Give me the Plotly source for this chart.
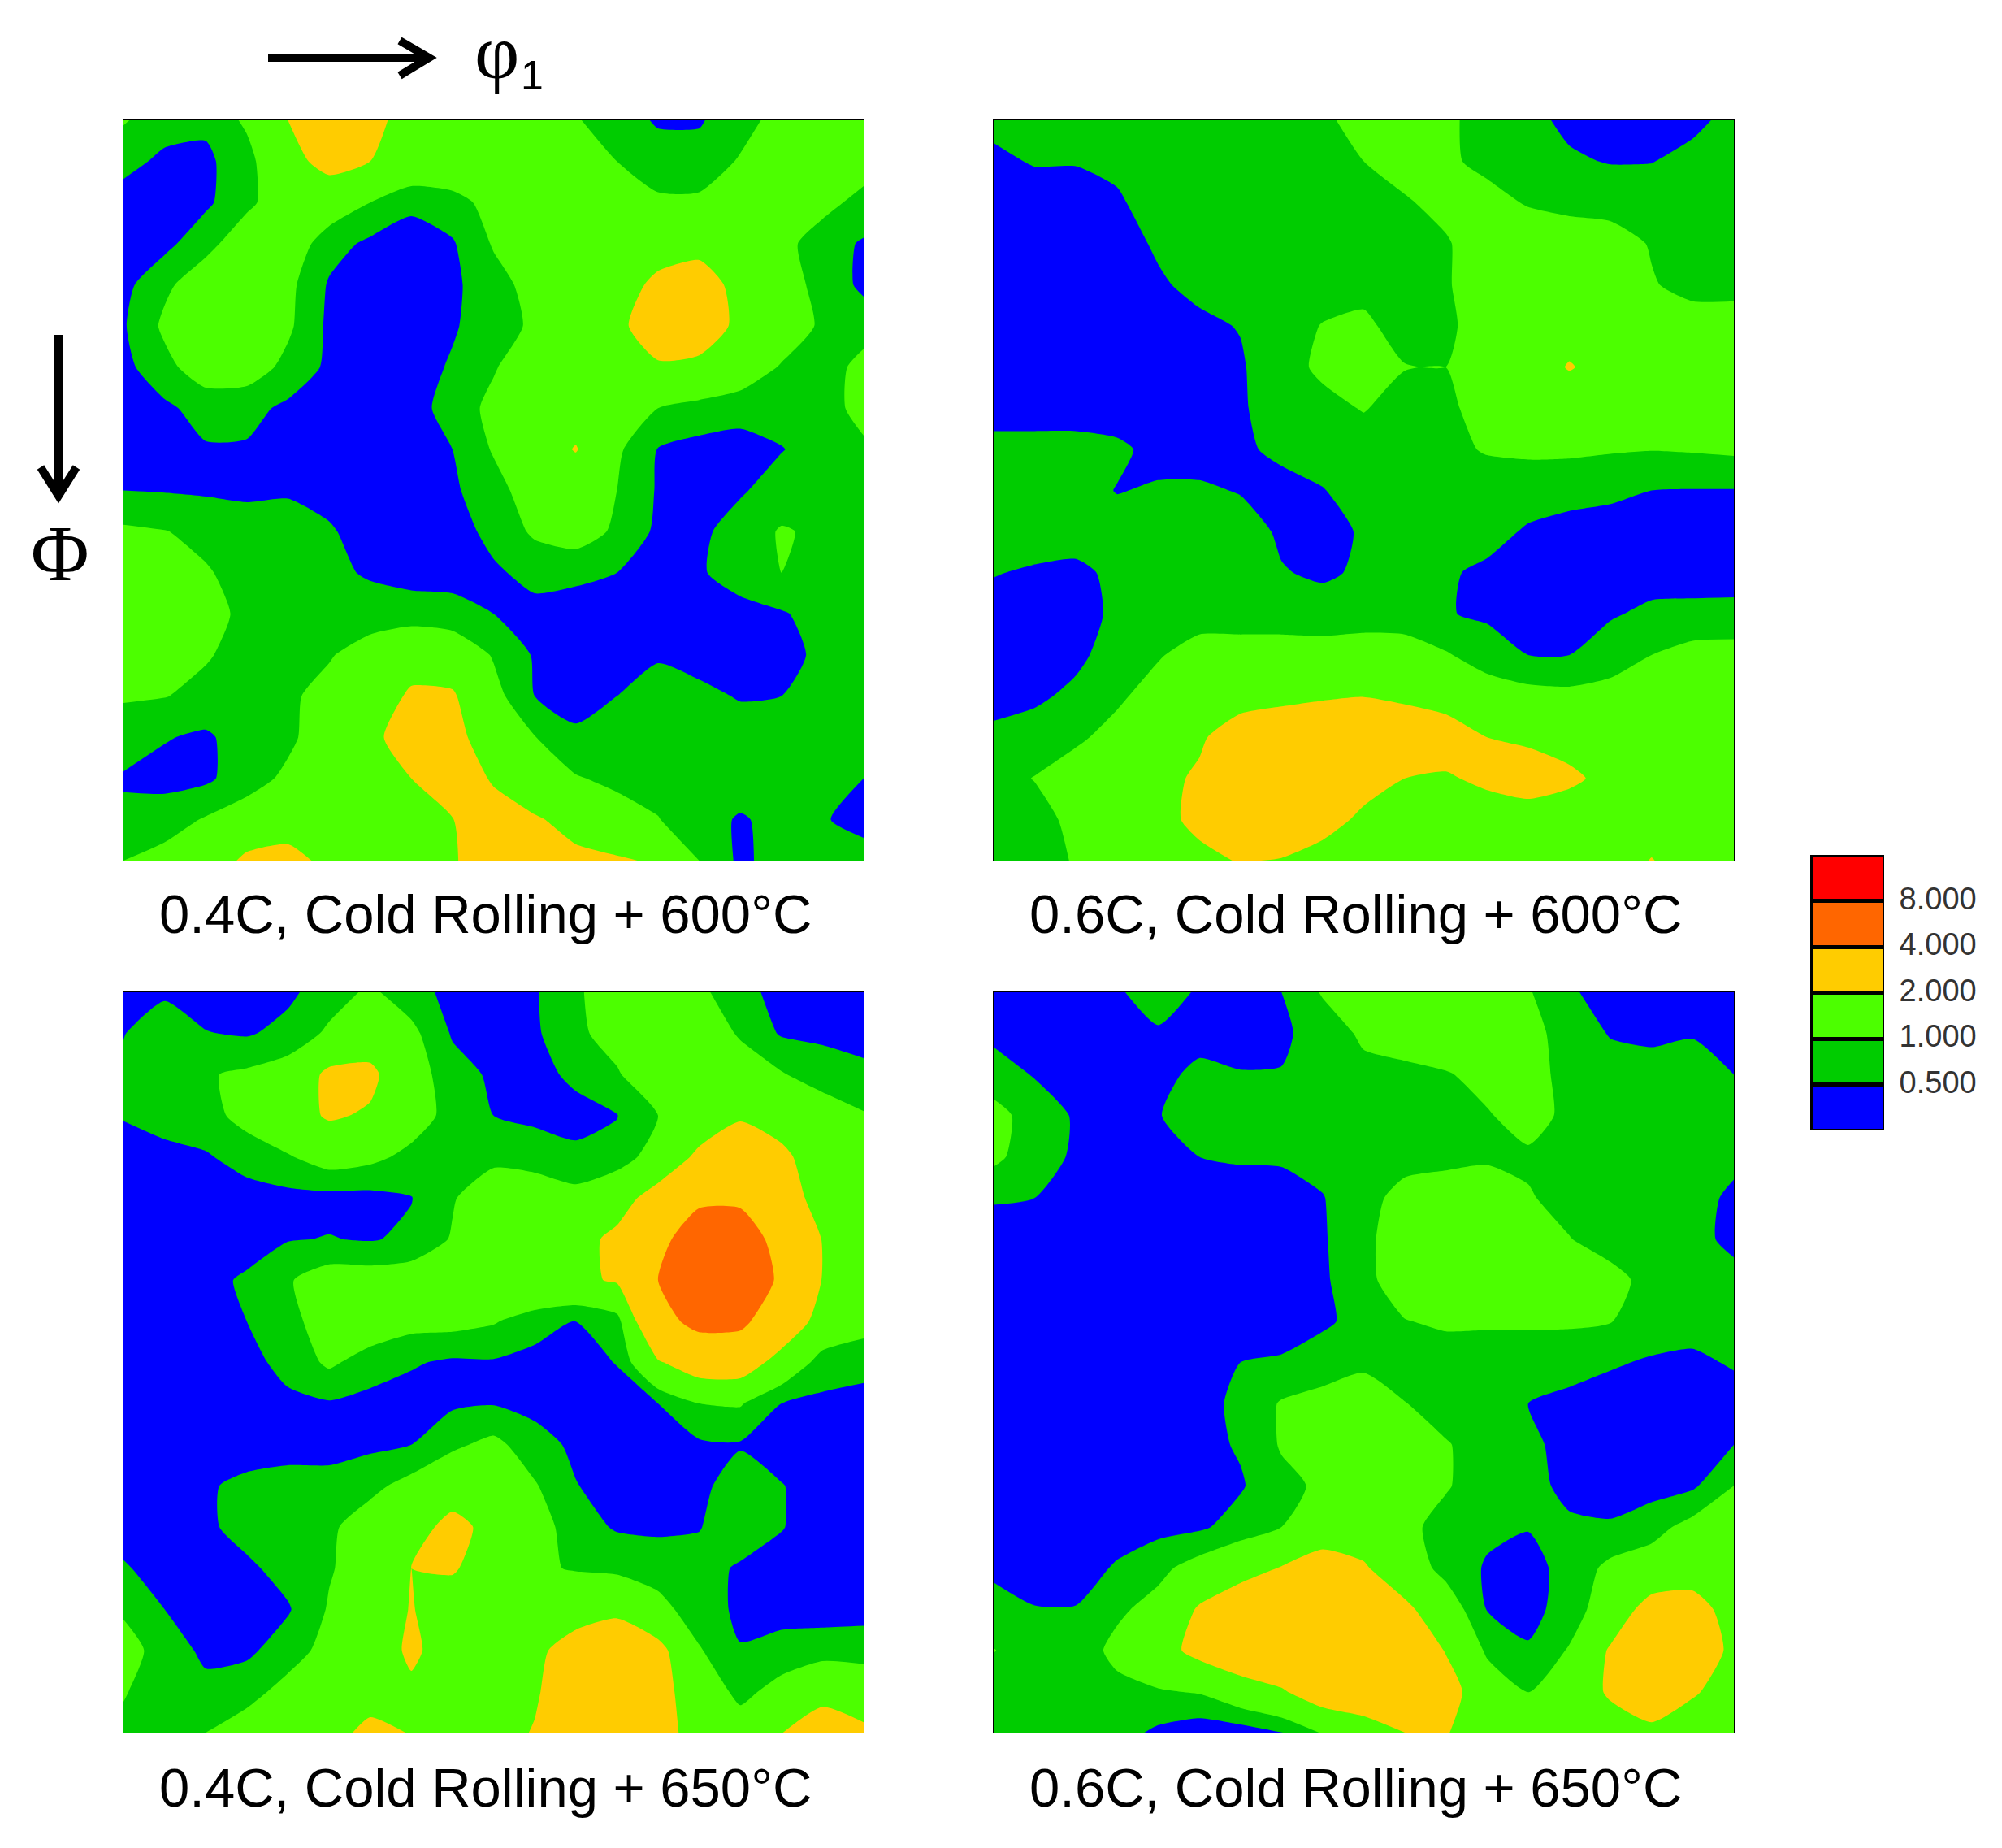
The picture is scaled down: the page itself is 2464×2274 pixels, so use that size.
import numpy as np
import plotly.graph_objects as go

W, H = 2464, 2274

# texture intensity on a 19 x 19 grid (5 degree steps), top row first
z_04_600 = [
    [1.05, .7, .6, 1.1, 2.0, 2.6, 2.3, 1.6, 1.4, 1.3, 1.2, 1.05, .7, .45, .45, .8, 1.2, 1.4, 1.5],
    [.65, .4, .4, .8, 1.7, 2.3, 2.0, 1.6, 1.5, 1.4, 1.3, 1.2, 1.0, .7, .7, 1.05, 1.3, 1.4, 1.3],
    [.3, .3, .4, .9, 1.3, 1.4, 1.0, .6, .8, 1.2, 1.4, 1.5, 1.3, 1.1, 1.1, 1.4, 1.4, 1.2, .8],
    [.3, .35, .85, 1.3, 1.4, .7, .4, .3, .45, 1.05, 1.4, 1.5, 1.6, 1.7, 1.8, 1.6, 1.2, .7, .45],
    [.35, .9, 1.3, 1.4, 1.15, .45, .3, .3, .4, .8, 1.2, 1.5, 1.7, 2.15, 2.3, 1.8, 1.3, .8, .4],
    [.45, 1.1, 1.4, 1.4, 1.1, .4, .3, .3, .45, .75, 1.1, 1.5, 1.8, 2.5, 2.5, 1.8, 1.4, .9, .75],
    [.35, .85, 1.3, 1.3, .85, .4, .3, .3, .55, .95, 1.4, 1.6, 1.7, 1.9, 1.8, 1.4, .95, .7, 1.2],
    [.25, .4, .7, .65, .4, .3, .3, .3, .7, 1.15, 1.5, 1.6, 1.4, 1.0, .8, .7, .7, .75, 1.2],
    [.3, .3, .45, .45, .3, .3, .3, .3, .5, 1.05, 1.5, 2.05, 1.1, .48, .35, .3, .48, .7, .9],
    [.5, .47, .44, .4, .45, .35, .3, .3, .42, .8, 1.3, 1.4, 1.0, .45, .35, .45, .7, .8, .85],
    [1.1, 1.02, .85, .75, .7, .55, .3, .3, .35, .6, 1.1, 1.3, .9, .4, .4, .7, 1.05, .9, .85],
    [1.3, 1.3, 1.05, .8, .75, .6, .45, .35, .35, .45, .6, .6, .5, .35, .45, .7, 1.0, .85, .85],
    [1.4, 1.4, 1.15, .9, .8, .75, .7, .7, .65, .5, .4, .3, .3, .3, .3, .35, .45, .7, .8],
    [1.3, 1.25, 1.05, .8, .8, .95, 1.3, 1.7, 1.5, .95, .45, .35, .35, .45, .35, .3, .35, .6, .75],
    [1.05, 1.02, .85, .8, .9, 1.2, 1.6, 2.1, 2.1, 1.2, .5, .4, .5, .7, .6, .47, .5, .7, .8],
    [.75, .53, .42, .75, .9, 1.3, 1.8, 2.4, 2.3, 1.5, 1.02, .55, .7, 1.0, .8, .7, .7, .75, .85],
    [.45, .35, .4, .8, 1.1, 1.4, 1.8, 2.0, 2.6, 1.9, 1.3, 1.05, .85, .8, .8, .75, .7, .6, .5],
    [.6, .75, 1.05, 1.25, 1.4, 1.5, 1.6, 1.8, 1.98, 2.4, 2.1, 1.7, 1.3, 1.02, .7, .45, .65, .52, .42],
    [1.0, 1.2, 1.4, 2.2, 2.4, 1.7, 1.5, 1.6, 1.9, 2.6, 2.4, 2.2, 2.1, 1.9, 1.0, .4, .7, .8, .6],
]

z_06_600 = [
    [.6, .7, .7, .7, .7, .7, .7, .7, .95, 1.1, 1.2, 1.1, .8, .6, .42, .35, .38, .42, .6],
    [.42, .53, .52, .55, .7, .75, .8, .85, .9, 1.0, 1.2, 1.1, .85, .65, .55, .48, .49, .6, .7],
    [.3, .3, .35, .47, .6, .7, .75, .8, .8, .85, .95, 1.15, 1.2, .95, .8, .75, .7, .7, .7],
    [.3, .3, .3, .35, .55, .65, .7, .8, .8, .8, .85, .95, 1.3, 1.4, 1.4, 1.3, .95, .7, .65],
    [.25, .25, .3, .3, .45, .6, .7, .75, .8, .85, .9, .95, 1.3, 1.5, 1.5, 1.4, 1.05, .8, .8],
    [.25, .25, .25, .3, .3, .42, .52, .8, 1.02, 1.1, .8, .9, 1.25, 1.5, 1.7, 1.6, 1.4, 1.3, 1.3],
    [.25, .25, .25, .25, .3, .35, .45, .8, 1.1, 1.3, 1.02, 1.001, 1.3, 1.6, 2.05, 1.7, 1.5, 1.4, 1.3],
    [.25, .25, .25, .25, .3, .35, .45, .7, .85, 1.03, .8, .9, 1.2, 1.4, 1.5, 1.5, 1.4, 1.3, 1.2],
    [.7, .7, .7, .6, .35, .35, .42, .6, .7, .75, .75, .85, 1.05, 1.1, 1.1, 1.05, 1.02, 1.05, 1.1],
    [.6, .7, .7, .48, .55, .55, .48, .35, .48, .7, .8, .75, .7, .7, .65, .6, .5, .48, .48],
    [.7, .7, .7, .7, .75, .75, .65, .45, .35, .55, .7, .75, .65, .45, .35, .3, .3, .3, .3],
    [.52, .45, .4, .6, .7, .75, .7, .52, .45, .55, .7, .55, .42, .3, .3, .3, .3, .3, .35],
    [.35, .3, .3, .6, .7, .75, .7, .7, .65, .7, .7, .53, .42, .35, .35, .45, .6, .62, .6],
    [.3, .3, .4, .7, .95, 1.25, 1.3, 1.3, 1.3, 1.35, 1.3, 1.05, .75, .5, .5, .75, 1.0, 1.2, 1.25],
    [.35, .42, .6, .9, 1.25, 1.6, 1.7, 1.8, 1.9, 1.98, 1.8, 1.6, 1.3, 1.2, 1.15, 1.2, 1.3, 1.4, 1.45],
    [.6, .7, .9, 1.2, 1.5, 1.9, 2.4, 2.6, 2.8, 2.9, 2.8, 2.5, 2.0, 1.8, 1.6, 1.5, 1.5, 1.5, 1.5],
    [.8, 1.02, 1.3, 1.45, 1.8, 2.1, 2.7, 2.9, 2.8, 2.4, 2.0, 1.9, 2.2, 2.6, 2.2, 1.7, 1.5, 1.5, 1.5],
    [.65, .8, 1.15, 1.4, 1.75, 2.2, 2.5, 2.7, 2.4, 1.8, 1.6, 1.5, 1.5, 1.4, 1.4, 1.4, 1.4, 1.4, 1.4],
    [.6, .75, 1.05, 1.3, 1.5, 1.8, 2.05, 1.95, 1.6, 1.5, 1.4, 1.4, 1.4, 1.4, 1.4, 1.4, 2.05, 1.4, 1.4],
]

z_04_650 = [
    [.35, .42, .3, .3, .4, .75, 1.1, .7, .35, .3, .45, .95, 1.2, 1.3, 1.15, .6, .4, .35, .35],
    [.48, .8, .52, .45, .65, 1.1, 1.5, 1.15, .45, .35, .42, .9, 1.2, 1.5, 1.6, .9, .45, .42, .35],
    [.6, .7, .95, 1.1, 1.3, 2.2, 2.2, 1.3, .7, .42, .35, .6, .95, 1.4, 1.7, 1.5, 1.05, .7, .6],
    [.53, .7, .8, 1.2, 1.6, 2.1, 1.9, 1.3, .8, .5, .4, .35, .48, 1.0, 1.4, 1.9, 1.6, 1.4, 1.05],
    [.3, .35, .45, .7, .95, 1.3, 1.15, .85, .7, .85, .75, .6, .7, 1.3, 2.2, 2.6, 2.2, 1.5, 1.2],
    [.3, .3, .3, .3, .35, .35, .35, .48, .95, 1.4, 1.4, 1.2, 1.6, 2.4, 3.8, 3.8, 2.4, 1.7, 1.0],
    [.3, .3, .3, .35, .47, .52, .46, .6, 1.05, 1.55, 1.6, 1.7, 2.2, 3.7, 4.6, 4.6, 3.6, 1.95, 1.3],
    [.3, .3, .4, .55, .95, 1.3, 1.3, 1.35, 1.6, 1.7, 1.8, 1.8, 2.1, 4.0, 4.9, 4.9, 3.8, 1.95, 1.4],
    [.3, .3, .35, .5, .85, 1.25, 1.4, 1.2, 1.2, 1.05, .7, .48, .75, 3.4, 4.5, 4.4, 2.8, 1.6, 1.25],
    [.3, .3, .3, .35, .65, 1.1, .75, .55, .42, .45, .35, .3, .52, 1.9, 2.6, 2.6, 1.6, .75, .65],
    [.3, .3, .3, .3, .4, .45, .35, .3, .42, .47, .35, .3, .3, .5, 1.0, 1.05, .5, .4, .35],
    [.3, .3, .3, .3, .3, .35, .4, .5, .9, 1.15, .7, .4, .3, .3, .42, .45, .3, .3, .3],
    [.3, .3, .45, .6, .7, .65, .85, 1.2, 1.5, 1.6, 1.05, .52, .3, .3, .35, .8, .52, .3, .3],
    [.3, .3, .4, .7, .75, .9, 1.3, 1.6, 2.3, 1.7, 1.3, .7, .45, .42, .48, .75, .52, .3, .3],
    [.55, .3, .3, .4, .7, .95, 1.3, 2.0, 2.1, 1.5, 1.1, .95, .85, .75, .65, .45, .35, .3, .3],
    [.9, .5, .3, .3, .45, 1.05, 1.4, 2.05, 1.5, 1.5, 1.5, 1.6, 1.8, 1.2, .7, .42, .3, .3, .3],
    [1.3, .7, .42, .4, .75, 1.2, 1.5, 2.15, 1.6, 1.6, 1.8, 2.4, 2.7, 2.3, 1.05, .52, .7, .75, .8],
    [1.05, .65, .6, .8, 1.2, 1.4, 1.5, 1.85, 1.6, 1.7, 1.9, 2.6, 2.9, 2.4, 1.4, .85, 1.2, 1.7, 1.4],
    [.85, .75, 1.0, 1.3, 1.5, 1.6, 2.3, 1.95, 1.7, 1.7, 2.05, 2.8, 2.9, 2.4, 1.6, 1.3, 1.98, 2.5, 2.2],
]

z_06_650 = [
    [.3, .3, .3, .45, .7, .45, .35, .5, 1.05, 1.3, 1.4, 1.4, 1.3, 1.05, .55, .35, .3, .3, .3],
    [.4, .3, .3, .35, .45, .35, .35, .42, .7, 1.1, 1.4, 1.5, 1.5, 1.2, .75, .47, .4, .47, .35],
    [.7, .47, .3, .3, .38, .6, .52, .52, .75, .85, .8, .95, 1.2, 1.3, .75, .7, .7, .7, .5],
    [1.2, .75, .45, .3, .48, .7, .7, .7, .75, .8, .85, .85, .95, 1.25, .85, .75, .7, .7, .7],
    [1.15, .65, .45, .3, .35, .5, .55, .55, .65, .75, .8, .85, .9, .9, .8, .75, .7, .7, .6],
    [.52, .5, .3, .3, .3, .3, .3, .35, .48, .8, 1.2, 1.3, 1.4, 1.05, .8, .75, .7, .65, .42],
    [.4, .3, .3, .3, .3, .3, .3, .3, .45, .85, 1.35, 1.5, 1.5, 1.3, 1.02, .75, .7, .6, .42],
    [.3, .3, .3, .3, .3, .3, .3, .3, .42, .85, 1.3, 1.5, 1.5, 1.5, 1.4, 1.2, .8, .7, .6],
    [.3, .3, .3, .3, .3, .3, .3, .3, .45, .6, .98, 1.08, 1.08, 1.08, 1.08, 1.02, .75, .7, .7],
    [.3, .3, .3, .3, .3, .3, .5, .55, .65, .9, .7, .75, .7, .7, .65, .55, .45, .4, .55],
    [.3, .3, .3, .3, .3, .35, .6, 1.05, 1.25, 1.3, 1.02, .7, .7, .5, .4, .3, .3, .3, .3],
    [.3, .3, .3, .3, .3, .35, .55, 1.05, 1.4, 1.5, 1.4, 1.05, .7, .6, .35, .3, .3, .3, .5],
    [.3, .3, .3, .3, .3, .3, .45, .85, 1.1, 1.4, 1.3, 1.05, .7, .6, .42, .3, .3, .42, 1.0],
    [.3, .3, .3, .3, .35, .42, .7, 1.0, 1.4, 1.5, 1.15, .8, .6, .52, .55, .55, .8, 1.2, 1.4],
    [.42, .3, .3, .55, .85, 1.25, 1.6, 2.05, 2.5, 2.1, 1.4, .8, .45, .35, .65, 1.15, 1.3, 1.4, 1.5],
    [.65, .52, .52, .9, 1.2, 2.1, 2.7, 3.0, 3.2, 3.0, 2.2, 1.4, .48, .35, .7, 1.4, 2.4, 2.5, 1.5],
    [1.02, .7, .7, 1.15, 1.6, 2.3, 2.8, 3.0, 3.2, 3.2, 2.8, 1.95, .9, .55, 1.05, 2.1, 2.9, 2.9, 1.7],
    [.7, .7, .8, .85, .95, 1.05, 1.5, 1.9, 2.6, 2.9, 3.0, 2.4, 1.4, .98, 1.3, 2.15, 2.9, 2.1, 1.6],
    [.7, .7, .7, .7, .4, .2, .25, .48, 1.05, 1.4, 2.0, 2.05, 1.5, 1.3, 1.3, 1.5, 1.7, 1.5, 1.4],
]

panels = [z_04_600, z_06_600, z_04_650, z_06_650]
panel_titles = [
    "0.4C, Cold Rolling + 600°C",
    "0.6C, Cold Rolling + 600°C",
    "0.4C, Cold Rolling + 650°C",
    "0.6C, Cold Rolling + 650°C",
]
levels = [0.5, 1, 2, 4, 8]
band_colors = ["#0000FF", "#00CC00", "#4CFF00", "#FFCC00", "#FF6600", "#FF0000"]
level_labels = ["0.500", "1.000", "2.000", "4.000", "8.000"]

# pixel boxes of the panels in the page
panel_x = [(152, 1063), (1223, 2134), (152, 1063), (1223, 2134)]
panel_y = [(148, 1059), (148, 1059), (1221, 2132), (1221, 2132)]
title_x = [597, 1668, 597, 1668]
title_y = [1124, 1124, 2199, 2199]


def dom_x(a, b):
    return [a / W, b / W]


def dom_y(a, b):
    return [1 - b / H, 1 - a / H]


def label(text, x, y, size, family="Liberation Sans", color="black"):
    return dict(
        text=text, x=x / W, y=1 - y / H, xref="paper", yref="paper",
        showarrow=False, xanchor="center", yanchor="middle",
        font=dict(size=size, family=family, color=color),
    )


def stroke(points):
    path = "M " + " L ".join(f"{x / W} {1 - y / H}" for x, y in points)
    return dict(type="path", path=path, xref="paper", yref="paper",
                line=dict(color="black", width=10))


fig = go.Figure()
layout_axes = {}
for i, z in enumerate(panels):
    n = i + 1
    suffix = "" if n == 1 else str(n)
    # one filled layer per threshold, stacked over the blue plot background
    for level, color in zip(levels, band_colors[1:]):
        fig.add_trace(go.Contour(
            z=z,
            x=np.arange(19),
            y=np.arange(19),
            xaxis=f"x{suffix}",
            yaxis=f"y{suffix}",
            zmin=level - 1,
            zmax=level + 1,
            colorscale=[[0, "rgba(0,0,0,0)"], [0.5, "rgba(0,0,0,0)"], [0.5, color], [1, color]],
            contours=dict(start=level, end=level, size=1, coloring="fill", showlines=False),
            line=dict(width=0, smoothing=0.6),
            showscale=False,
            hoverinfo="skip",
        ))
    layout_axes[f"xaxis{suffix}"] = dict(
        domain=dom_x(*panel_x[i]), range=[0, 18], anchor=f"y{suffix}",
        showgrid=False, zeroline=False, showticklabels=False, ticks="",
        showline=True, linecolor="black", linewidth=1, mirror=True,
    )
    layout_axes[f"yaxis{suffix}"] = dict(
        domain=dom_y(*panel_y[i]), range=[18, 0], anchor=f"x{suffix}",
        showgrid=False, zeroline=False, showticklabels=False, ticks="",
        showline=True, linecolor="black", linewidth=1, mirror=True,
    )

# colour key, drawn as a stacked bar with the levels as tick labels
for color in band_colors:
    fig.add_trace(go.Bar(
        x=[0], y=[1], width=[1], xaxis="x5", yaxis="y5",
        marker=dict(color=color, line=dict(color="black", width=5)),
        showlegend=False, hoverinfo="skip",
    ))
layout_axes["xaxis5"] = dict(
    domain=dom_x(2228, 2319), range=[-0.5, 0.5], anchor="y5",
    showgrid=False, zeroline=False, showticklabels=False, ticks="",
)
layout_axes["yaxis5"] = dict(
    domain=dom_y(1052, 1391), range=[0, 6], anchor="x5", side="right",
    showgrid=False, zeroline=False, ticks="outside", ticklen=10, tickcolor="white",
    tickvals=[1.05, 2.05, 3.05, 4.05, 5.05], ticktext=level_labels,
    tickfont=dict(size=38, family="Liberation Sans", color="#333333"),
)

annotations = [label(t, x, y, 67) for t, x, y in zip(panel_titles, title_x, title_y)]
annotations += [
    label("φ", 611, 64, 96, family="Liberation Serif"),
    label("1", 655, 93, 50),
    label("Φ", 74, 681, 98, family="Liberation Serif"),
]

shapes = [
    stroke([(330, 71), (528, 71)]),
    stroke([(492, 50), (528, 71), (492, 93)]),
    stroke([(72, 412), (72, 609)]),
    stroke([(50, 575), (72, 610), (94, 575)]),
]

fig.update_layout(
    width=W, height=H, autosize=False,
    margin=dict(l=0, r=0, t=0, b=0),
    paper_bgcolor="white",
    plot_bgcolor="#0000FF",
    barmode="stack",
    showlegend=False,
    annotations=annotations,
    shapes=shapes,
    **layout_axes,
)

fig.write_html("out.html", config=dict(displayModeBar=False),
               post_script="document.body.style.margin='0';")
